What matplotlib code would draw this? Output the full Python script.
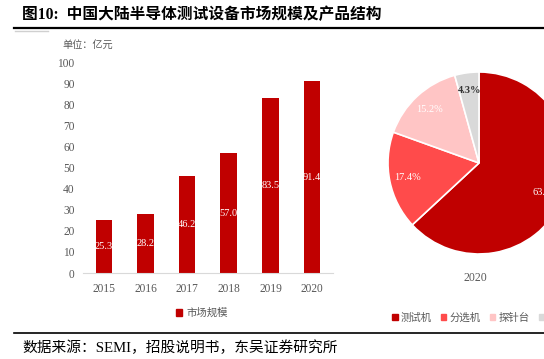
import matplotlib
matplotlib.use("Agg")
from matplotlib import pyplot as plt
from matplotlib.lines import Line2D
from matplotlib.patches import Patch

years = ["2015", "2016", "2017", "2018", "2019", "2020"]
market = [25.3, 28.2, 46.2, 57.0, 83.5, 91.4]

products = ["测试机", "分选机", "探针台", "其他"]
shares = [63.1, 17.4, 15.2, 4.3]
pie_colors = ["#C00000", "#FF4B4B", "#FFC5C5", "#D9D9D9"]

MIX = ["Liberation Serif", "Noto Sans CJK SC"]
GREY = "#595959"

W, H = 544, 359
fig = plt.figure(figsize=(W / 100, H / 100), dpi=100)


def box(x0, y0, x1, y1):
    # pixel box (top-left origin) -> figure fraction rect
    return [x0 / W, 1 - y1 / H, (x1 - x0) / W, (y1 - y0) / H]


# title and rules
fig.text(22 / W, 1 - 15 / H, "图10:  中国大陆半导体测试设备市场规模及产品结构",
         family=MIX, fontsize=11.3, fontweight="bold", va="center", color="black")
fig.add_artist(Line2D([14 / W, 1], [1 - 28 / H] * 2, color="black", lw=1.6))
fig.add_artist(Line2D([15 / W, 48 / W], [1 - 31 / H] * 2, color="#d0d0d0", lw=1))
fig.add_artist(Line2D([14 / W, 1], [1 - 333 / H] * 2, color="black", lw=1.2))
fig.text(22 / W, 1 - 348 / H, "数据来源：SEMI，招股说明书，东吴证券研究所",
         family=MIX, fontsize=10.6, va="center", color="black")

# bar chart
ax = fig.add_axes(box(83, 63, 333, 273))
x = range(len(years))
bars = ax.bar(x, market, width=0.4, color="#C00000", label="市场规模")
for b, v in zip(bars, market):
    ax.text(b.get_x() + b.get_width() / 2, v / 2, f"{v:.1f}", ha="center", va="center",
            color="white", fontsize=7.5, family="Liberation Serif")
ax.set_xlim(-0.5, len(years) - 0.5)
ax.set_ylim(0, 100)
ax.set_yticks(range(0, 101, 10))
ax.set_xticks(list(x))
ax.set_xticklabels(years)
for s in ["top", "right", "left"]:
    ax.spines[s].set_visible(False)
ax.spines["bottom"].set_color("#d9d9d9")
ax.tick_params(length=0, labelsize=8.3, labelcolor=GREY, pad=6)
ax.tick_params(axis="x", pad=7)
for lab in ax.get_xticklabels() + ax.get_yticklabels():
    lab.set_family("Liberation Serif")
fig.text(62 / W, 1 - 45 / H, "单位：亿元", family=MIX, fontsize=7.3, color=GREY, va="center")
fig.legend(handles=[Patch(color="#C00000")], labels=["市场规模"], loc="center",
           bbox_to_anchor=(202 / W, 1 - 313 / H), frameon=False, handlelength=0.6,
           handleheight=0.6, handletextpad=0.4, prop={"family": MIX, "size": 7.5},
           labelcolor=GREY)

# pie chart
pax = fig.add_axes(box(388, 72, 570, 254))
wedges, _, autotexts = pax.pie(shares, colors=pie_colors, startangle=90, counterclock=False,
                               autopct="%.1f%%", pctdistance=0.8,
                               wedgeprops=dict(edgecolor="white", linewidth=1.2))
for t, c in zip(autotexts, ["white", "white", "white", "#333333"]):
    t.set_color(c)
    t.set_fontsize(7.5)
    t.set_family("Liberation Serif")
autotexts[3].set_fontweight("bold")
pax.set_xlim(-1, 1)
pax.set_ylim(-1, 1)
pax.set_aspect("equal")
fig.text(475 / W, 1 - 278 / H, "2020", family="Liberation Serif", fontsize=8.5,
         color=GREY, ha="center", va="center")
fig.legend(handles=[Patch(color=c) for c in pie_colors], labels=products, loc="center left",
           bbox_to_anchor=(383 / W, 1 - 318 / H), frameon=False, ncol=4, handlelength=0.5,
           handleheight=0.5, handletextpad=0.3, columnspacing=0.9,
           prop={"family": MIX, "size": 7.5}, labelcolor=GREY)

fig.savefig("out.png", dpi=100)
